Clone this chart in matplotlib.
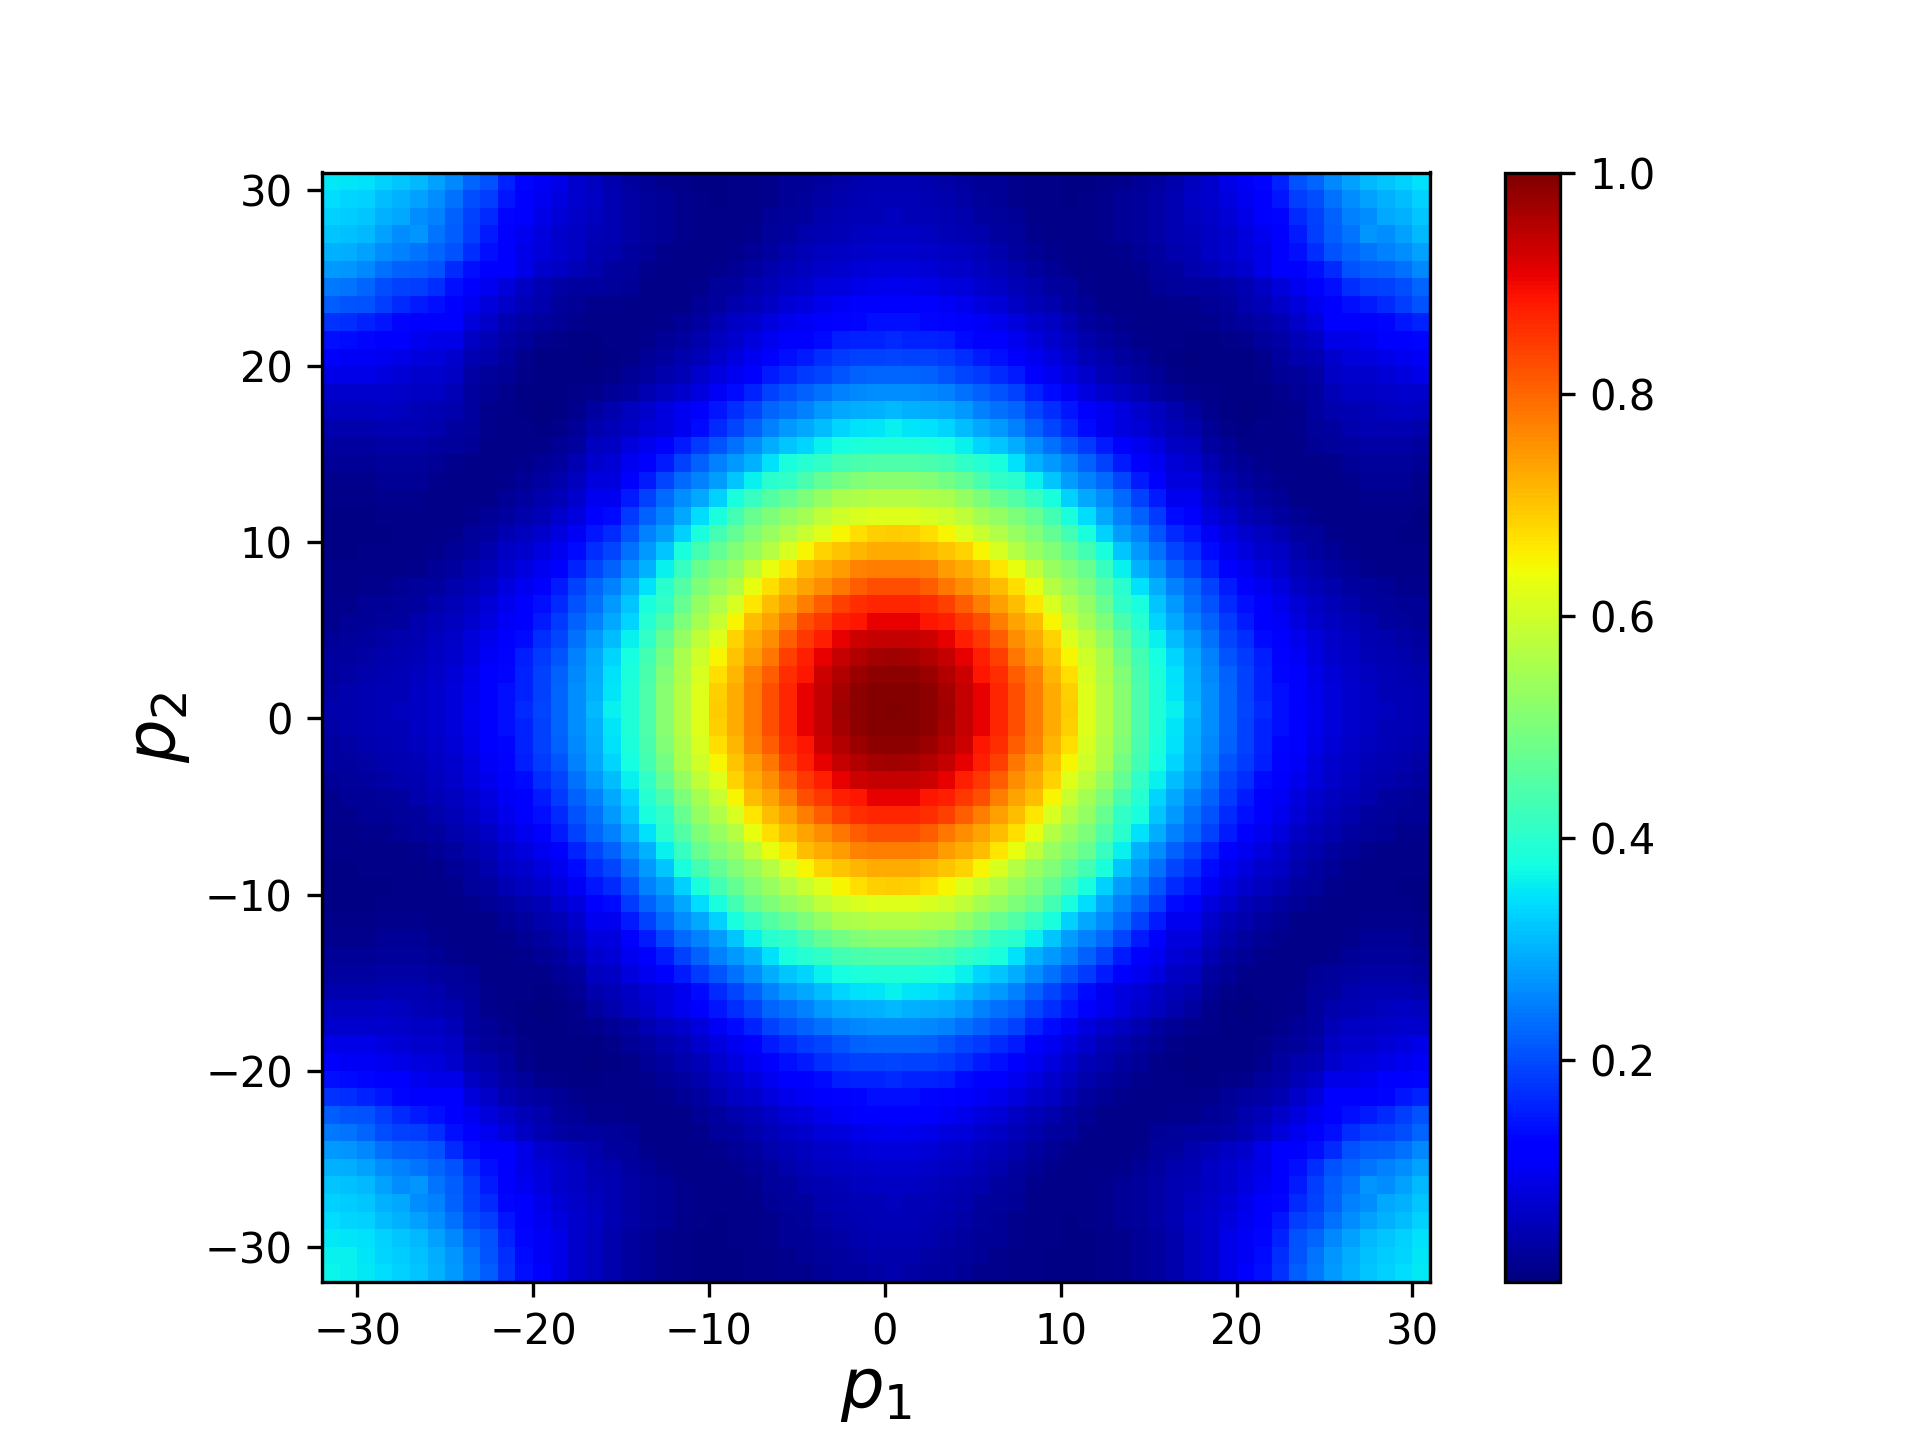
"""
Heatmap over (p1, p2) with a jet colorbar.
The picture is symmetric about the central cell, so only one octant is kept:
TRI[j][i] is the value read for |p2| = j, |p1| = i, with i <= j.
"""
import numpy as np
import matplotlib
matplotlib.use("Agg")
import matplotlib.pyplot as plt


P1_EDGES = list(range(-32, 32))
P2_EDGES = list(range(-32, 32))
CBAR_TICKS = [0.2, 0.4, 0.6, 0.8, 1.0]

TRI = [
    [1.0],
    [.995, .995],
    [.985, .985, .975],
    [.97, .965, .955, .94],
    [.94, .94, .93, .91, .875],
    [.91, .91, .885, .875, .85, .826],
    [.87, .87, .86, .84, .81, .775, .74],
    [.826, .826, .81, .785, .76, .735, .71, .675],
    [.775, .775, .77, .745, .73, .71, .665, .63, .58],
    [.73, .73, .715, .70, .685, .65, .61, .57, .535, .505],
    [.695, .69, .675, .65, .62, .59, .565, .535, .505, .47, .43],
    [.62, .62, .61, .60, .58, .55, .53, .50, .475, .43, .38, .34],
    [.57, .57, .56, .555, .53, .50, .475, .45, .415, .38, .33, .29, .265],
    [.515, .515, .505, .49, .47, .44, .41, .40, .36, .32, .28, .25, .23, .195],
    [.445, .445, .44, .43, .41, .395, .38, .345, .30, .275, .25, .22, .19, .15, .12],
    [.39, .39, .385, .375, .36, .335, .32, .295, .265, .235, .21, .18, .15, .12, .10, .085],
    [.36, .35, .345, .335, .31, .29, .275, .25, .22, .195, .165, .135, .10, .085, .075, .06, .05],
    [.305, .30, .295, .29, .275, .25, .235, .225, .195, .17, .145, .12, .10, .085, .07, .055, .04, .03],
    [.265, .265, .26, .25, .235, .22, .205, .19, .16, .135, .105, .085, .07, .055, .045, .03, .02, .015, .01],
    [.225, .225, .22, .21, .195, .18, .165, .15, .12, .10, .085, .07, .05, .04, .03, .02, .01, .005, .005, .005],
    [.195, .19, .19, .18, .17, .15, .14, .12, .10, .085, .07, .05, .04, .03, .02, .01, .005, 0.0, .005, .005, .005],
    [.165, .16, .16, .155, .135, .115, .11, .10, .085, .07, .055, .04, .03, .02, .015, .01, .01, .005, .005, .01, .015, .025],
    [.14, .14, .13, .125, .11, .105, .095, .085, .07, .06, .045, .03, .02, .015, .01, .01, .01, .01, .015, .02, .03, .035, .045],
    [.115, .115, .11, .105, .095, .085, .075, .06, .05, .04, .03, .02, .01, .01, .01, .01, .015, .015, .02, .025, .04, .05, .065, .08],
    [.10, .095, .09, .085, .08, .07, .06, .05, .04, .03, .025, .015, .01, .01, .01, .02, .025, .03, .03, .035, .045, .06, .08, .10, .115],
    [.08, .08, .075, .07, .065, .055, .05, .04, .03, .02, .015, .01, .01, .01, .015, .025, .03, .04, .05, .06, .07, .09, .115, .12, .14, .165],
    [.07, .07, .065, .06, .055, .05, .04, .03, .02, .015, .01, .01, .01, .015, .02, .03, .04, .045, .06, .07, .08, .09, .115, .14, .17, .205, .225],
    [.06, .06, .055, .05, .045, .04, .03, .025, .015, .01, .01, .01, .015, .02, .025, .035, .045, .05, .06, .07, .085, .10, .12, .15, .185, .215, .24, .27],
    [.055, .05, .05, .045, .04, .03, .025, .02, .01, .01, .01, .01, .015, .02, .025, .035, .045, .055, .065, .075, .09, .11, .13, .165, .19, .22, .25, .265, .29],
    [.05, .05, .045, .04, .035, .025, .02, .015, .01, .01, .005, .01, .015, .02, .025, .035, .045, .06, .07, .085, .10, .12, .145, .185, .20, .235, .265, .285, .30, .31],
    [.045, .045, .04, .035, .03, .02, .02, .015, .01, .01, .005, .005, .01, .015, .02, .03, .04, .055, .07, .09, .105, .13, .16, .205, .225, .26, .285, .305, .32, .33, .345],
    [.04, .04, .035, .03, .025, .02, .015, .01, .01, .005, .005, .005, .01, .015, .02, .03, .04, .055, .07, .09, .105, .135, .17, .21, .24, .27, .295, .315, .325, .335, .35, .36],
    [.04, .035, .03, .03, .02, .015, .015, .01, .01, .005, .005, .005, .01, .015, .02, .03, .04, .055, .07, .09, .11, .14, .175, .215, .245, .275, .30, .32, .33, .34, .355, .36, .365],
]


def build_grid():
    n = len(P1_EDGES) - 1
    z = np.zeros((n, n))
    for r in range(n):
        for c in range(n):
            j = abs(P2_EDGES[r])
            i = abs(P1_EDGES[c])
            z[r, c] = TRI[max(i, j)][min(i, j)]
    return z


def main():
    z = build_grid()
    fig = plt.figure(figsize=(6.4, 4.8), dpi=300)
    ax = fig.add_axes([322 / 1920, 1 - 1282 / 1440, 1108 / 1920, 1109.5 / 1440])
    mesh = ax.pcolormesh(P1_EDGES, P2_EDGES, z, cmap="jet")
    ax.set_xlim(-32, 31)
    ax.set_ylim(-32, 31)
    ax.set_xlabel("$p_1$", fontsize=16.5, labelpad=1)
    ax.set_ylabel("$p_2$", fontsize=16.5, labelpad=3)

    cax = fig.add_axes([1505 / 1920, 1 - 1282 / 1440, 55 / 1920, 1109.5 / 1440])
    cb = fig.colorbar(mesh, cax=cax)
    cb.set_ticks(CBAR_TICKS)

    fig.savefig("out.png", dpi=300)
    plt.close(fig)


if __name__ == "__main__":
    main()
